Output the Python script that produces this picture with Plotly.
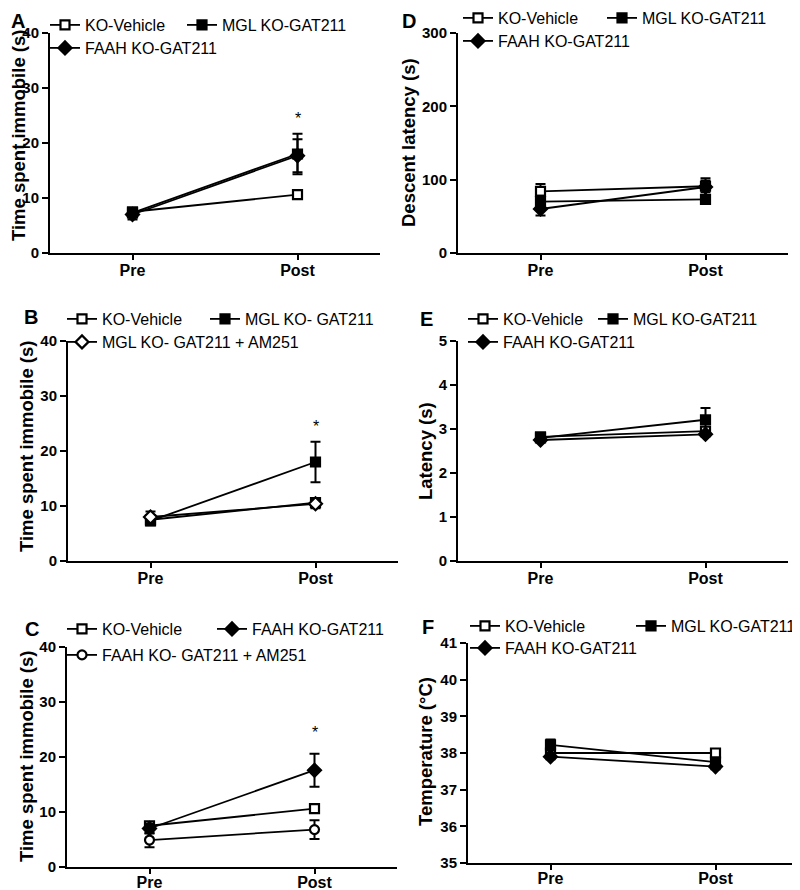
import plotly.graph_objects as go

FONT = 'Liberation Sans, Arial, sans-serif'
# page body adds an 8px margin, so the figure is drawn 8px smaller and
# all reference pixel positions are shifted by OFF
OFF = 8
W, H = 800 - OFF, 890 - OFF

phase = ['Pre', 'Post']

# A - immobility, all groups
a_ko = [7.5, 10.6]
a_ko_err = [0.6, 0.7]
a_mgl = [7.3, 18.0]
a_mgl_err = [0.8, 3.7]
a_faah = [7.0, 17.7]
a_faah_err = [0.9, 3.0]

# B - MGL KO with AM251
b_ko = [7.5, 10.6]
b_ko_err = [0.6, 0.7]
b_mgl = [7.3, 18.0]
b_mgl_err = [0.8, 3.7]
b_mgl_am = [8.0, 10.4]
b_mgl_am_err = [1.0, 0.8]

# C - FAAH KO with AM251
c_ko = [7.5, 10.6]
c_ko_err = [0.6, 0.7]
c_faah = [7.0, 17.6]
c_faah_err = [0.9, 3.0]
c_faah_am = [4.9, 6.8]
c_faah_am_err = [1.3, 1.7]

# D - descent latency
d_ko = [84, 91]
d_ko_err = [10, 8]
d_mgl = [70, 73]
d_mgl_err = [8, 3]
d_faah = [60, 90]
d_faah_err = [9, 12]

# E - latency
e_ko = [2.82, 2.95]
e_ko_err = [0.05, 0.06]
e_mgl = [2.80, 3.21]
e_mgl_err = [0.05, 0.27]
e_faah = [2.75, 2.88]
e_faah_err = [0.04, 0.05]

# F - temperature
f_ko = [38.0, 38.0]
f_ko_err = [0.08, 0.1]
f_mgl = [38.22, 37.75]
f_mgl_err = [0.15, 0.1]
f_faah = [37.9, 37.63]
f_faah_err = [0.07, 0.07]

fig = go.Figure()


def px(x):
    return (x - OFF) / W


def py(y):
    return 1 - (y - OFF) / H


def add_series(n, name, y, err, symbol, fill, legend, size=9, lw=None):
    ax = '' if n == 1 else str(n)
    tr = go.Scatter(
        x=phase, y=y, name=name, mode='lines+markers',
        error_y=dict(type='data', array=err, thickness=2, width=5, color='black'),
        line=dict(color='black', width=1.8),
        marker=dict(symbol=symbol, size=size, color=fill, line=dict(color='black', width=2.2)),
        xaxis='x' + ax, yaxis='y' + ax, legend=legend, hoverinfo='skip')
    if lw:
        tr.legendwidth = lw
    fig.add_trace(tr)


def legend_box(sym_x, y_px):
    # sym_x: centre of the first legend symbol in reference pixels
    return dict(x=px(sym_x - 21), y=py(y_px), xanchor='left', yanchor='middle',
                orientation='h', bgcolor='rgba(0,0,0,0)', borderwidth=0,
                font=dict(family=FONT, size=16, color='black'), tracegroupgap=0)


def set_axes(n, x0, x1, top, bottom, yrange, dtick, ytitle, tx, ty, tsize=18.5, xstand=-3):
    ax = '' if n == 1 else str(n)
    fig.layout['xaxis' + ax] = dict(
        domain=[px(x0), px(x1)], anchor='y' + ax, type='category', range=[-0.5, 1.5],
        showline=True, linewidth=2, linecolor='black', ticks='outside', ticklen=5,
        tickwidth=2, tickcolor='black', showgrid=False, zeroline=False, automargin=False,
        ticklabelstandoff=xstand,
        tickfont=dict(family=FONT, size=16, color='black', weight='bold'))
    fig.layout['yaxis' + ax] = dict(
        domain=[py(bottom), py(top)], anchor='x' + ax, range=yrange, dtick=dtick,
        showline=True, linewidth=2, linecolor='black', ticks='outside', ticklen=6,
        tickwidth=2, tickcolor='black', showgrid=False, zeroline=False, automargin=False,
        tickfont=dict(family=FONT, size=15, color='black', weight='bold'))
    fig.add_annotation(x=px(tx), y=py(ty), xref='paper', yref='paper', text=ytitle,
                       textangle=-90, showarrow=False, xanchor='center', yanchor='middle',
                       font=dict(family=FONT, size=tsize, color='black', weight='bold'))


# panel A
add_series(1, 'KO-Vehicle', a_ko, a_ko_err, 'square', 'white', 'legend', lw=92)
add_series(1, 'MGL KO-GAT211', a_mgl, a_mgl_err, 'square', 'black', 'legend', lw=150)
add_series(1, 'FAAH KO-GAT211', a_faah, a_faah_err, 'diamond', 'black', 'legend2', 10)
# panel B
add_series(2, 'KO-Vehicle', b_ko, b_ko_err, 'square', 'white', 'legend3', lw=98)
add_series(2, 'MGL KO- GAT211', b_mgl, b_mgl_err, 'square', 'black', 'legend3', lw=150)
add_series(2, 'MGL KO- GAT211 + AM251', b_mgl_am, b_mgl_am_err, 'diamond', 'white', 'legend4', 10)
# panel C
add_series(3, 'KO-Vehicle', c_ko, c_ko_err, 'square', 'white', 'legend5', lw=105)
add_series(3, 'FAAH KO-GAT211', c_faah, c_faah_err, 'diamond', 'black', 'legend5', 10, lw=150)
add_series(3, 'FAAH KO- GAT211 + AM251', c_faah_am, c_faah_am_err, 'circle', 'white', 'legend6')
# panel D
add_series(4, 'KO-Vehicle', d_ko, d_ko_err, 'square', 'white', 'legend7', lw=99)
add_series(4, 'MGL KO-GAT211', d_mgl, d_mgl_err, 'square', 'black', 'legend7', lw=150)
add_series(4, 'FAAH KO-GAT211', d_faah, d_faah_err, 'diamond', 'black', 'legend8', 10)
# panel E
add_series(5, 'KO-Vehicle', e_ko, e_ko_err, 'square', 'white', 'legend9', lw=85)
add_series(5, 'MGL KO-GAT211', e_mgl, e_mgl_err, 'square', 'black', 'legend9', lw=150)
add_series(5, 'FAAH KO-GAT211', e_faah, e_faah_err, 'diamond', 'black', 'legend10', 10)
# panel F
add_series(6, 'KO-Vehicle', f_ko, f_ko_err, 'square', 'white', 'legend11', lw=121)
add_series(6, 'MGL KO-GAT211', f_mgl, f_mgl_err, 'square', 'black', 'legend11', lw=140)
add_series(6, 'FAAH KO-GAT211', f_faah, f_faah_err, 'diamond', 'black', 'legend12', 10)

set_axes(1, 50, 380, 33, 253, [0, 40], 10, 'Time spent immobile (s)', 19, 136, 18.5)
set_axes(2, 68, 398, 341, 561, [0, 40], 10, 'Time spent immobile (s)', 26, 447)
set_axes(3, 67, 397, 647, 867, [0, 40], 10, 'Time spent immobile (s)', 26, 757, xstand=-5)
set_axes(4, 458, 788, 33, 253, [0, 300], 100, 'Descent latency (s)', 408, 143)
set_axes(5, 458, 788, 341, 561, [0, 5], 1, 'Latency (s)', 425, 451)
set_axes(6, 468, 798, 643, 863, [35, 41], 1, 'Temperature (°C)', 425, 752, xstand=-5)

fig.update_layout(
    width=W, height=H, margin=dict(l=0, r=0, t=0, b=0, autoexpand=False),
    paper_bgcolor='white', plot_bgcolor='white', template='none',
    font=dict(family=FONT, color='black'),
    legend=legend_box(66, 25), legend2=legend_box(66, 48),
    legend3=legend_box(83, 319), legend4=legend_box(83, 342),
    legend5=legend_box(83, 629), legend6=legend_box(83, 655),
    legend7=legend_box(479, 18), legend8=legend_box(479, 41),
    legend9=legend_box(484, 319), legend10=legend_box(484, 342),
    legend11=legend_box(486, 626), legend12=legend_box(486, 648),
)

# significance stars
for ax in ['', '2', '3']:
    fig.add_annotation(x='Post', y=24.5, text='*', showarrow=False, xref='x' + ax, yref='y' + ax,
                       font=dict(family=FONT, size=16, color='black'))

# panel letters (A and D sit against the top edge)
letters = [('A', 9, 8, 'top'), ('B', 22, 317, 'middle'), ('C', 23, 629, 'middle'),
           ('D', 400, 8, 'top'), ('E', 418, 319, 'middle'), ('F', 420, 627, 'middle')]
for txt, lx, ly, anc in letters:
    fig.add_annotation(x=px(lx), y=py(ly), xref='paper', yref='paper', text=txt, showarrow=False,
                       xanchor='left', yanchor=anc,
                       font=dict(family=FONT, size=20, color='black', weight='bold'))

fig.write_html('out.html')
